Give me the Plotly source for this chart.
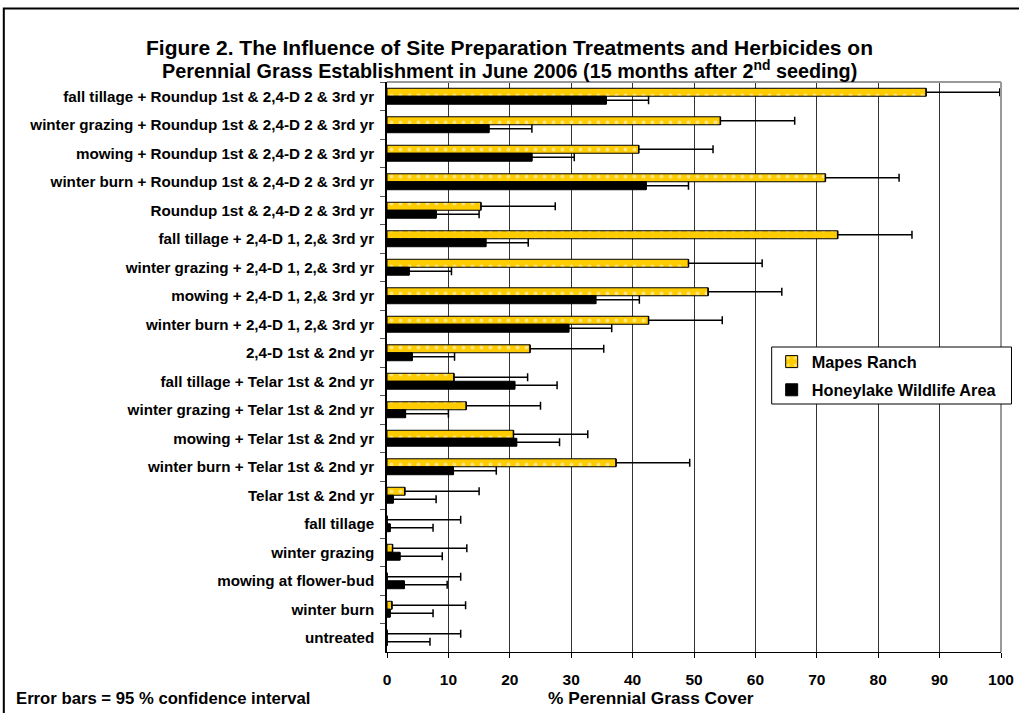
import plotly.graph_objects as go

categories = [
    "fall tillage + Roundup 1st & 2,4-D 2 & 3rd yr",
    "winter grazing + Roundup 1st & 2,4-D 2 & 3rd yr",
    "mowing + Roundup 1st & 2,4-D 2 & 3rd yr",
    "winter burn + Roundup 1st & 2,4-D 2 & 3rd yr",
    "Roundup 1st & 2,4-D 2 & 3rd yr",
    "fall tillage + 2,4-D 1, 2,& 3rd yr",
    "winter grazing + 2,4-D 1, 2,& 3rd yr",
    "mowing + 2,4-D 1, 2,& 3rd yr",
    "winter burn + 2,4-D 1, 2,& 3rd yr",
    "2,4-D 1st & 2nd yr",
    "fall tillage + Telar 1st & 2nd yr",
    "winter grazing + Telar 1st & 2nd yr",
    "mowing + Telar 1st & 2nd yr",
    "winter burn + Telar 1st & 2nd yr",
    "Telar 1st & 2nd yr",
    "fall tillage",
    "winter grazing",
    "mowing at flower-bud",
    "winter burn",
    "untreated",
]

mapes = [87.8, 54.3, 41.0, 71.4, 15.3, 73.4, 49.1, 52.3, 42.6, 23.3,
         10.9, 12.9, 20.6, 37.3, 2.9, 0.0, 0.9, 0.0, 0.8, 0.0]
mapes_err = [12.0, 12.1, 12.1, 12.0, 12.1, 12.1, 12.0, 12.0, 12.0, 12.0,
             12.0, 12.1, 12.1, 12.0, 12.1, 12.0, 12.1, 12.0, 12.0, 12.0]

honey = [35.7, 16.6, 23.6, 42.2, 8.0, 16.1, 3.6, 34.0, 29.6, 4.1,
         20.8, 3.0, 21.1, 10.8, 1.0, 0.5, 2.1, 2.8, 0.5, 0.0]
honey_err = [6.9, 7.0, 6.9, 6.9, 7.0, 6.9, 6.9, 7.1, 7.0, 6.9,
             6.9, 7.0, 7.0, 7.0, 7.0, 7.0, 6.9, 7.0, 7.0, 7.0]

x_ticks = [0, 10, 20, 30, 40, 50, 60, 70, 80, 90, 100]

title_lines = [
    "Figure 2. The Influence of Site Preparation Treatments and Herbicides on",
    "Perennial Grass Establishment in June 2006 (15 months after 2<sup>nd</sup> seeding)",
]

FONT = "Liberation Sans, Arial, sans-serif"
PW, PH, L, B = 614.5, 570.0, 387.0, 652.0


def px(x):
    return (x - L) / PW


def py(y):
    return (B - y) / PH


fig = go.Figure()
fig.add_trace(go.Bar(
    y=categories, x=mapes, orientation="h", name="Mapes Ranch", legendgroup="m",
    marker=dict(color="#FFCC00", line=dict(color="black", width=1),
                pattern=dict(shape=".", fgcolor="white", size=9, solidity=0.15)),
    error_x=dict(type="data", array=mapes_err, arrayminus=[0] * len(mapes),
                 symmetric=False, color="black", thickness=1.5, width=4),
))
fig.add_trace(go.Bar(
    y=categories, x=honey, orientation="h", name="Honeylake Wildlife Area", legendgroup="h",
    marker=dict(color="black", line=dict(color="black", width=1)),
    error_x=dict(type="data", array=honey_err, arrayminus=[0] * len(honey),
                 symmetric=False, color="black", thickness=1.5, width=4),
))

fig.update_layout(
    width=1019, height=713,
    margin=dict(l=387, r=18, t=82, b=61, autoexpand=False),
    paper_bgcolor="white", plot_bgcolor="white",
    barmode="group", bargap=0.44, bargroupgap=0,
    font=dict(family=FONT, color="black"),
    showlegend=True,
    legend=dict(
        x=px(772), y=py(344.5), xanchor="left", yanchor="top",
        bgcolor="rgba(0,0,0,0)", borderwidth=0,
        font=dict(size=16.3, family=FONT, color="black", weight="bold"),
        itemwidth=30, tracegroupgap=4,
    ),
)

fig.update_xaxes(
    range=[0, 100], tickvals=x_ticks, ticktext=[str(v) for v in x_ticks],
    showgrid=True, gridcolor="#333333", gridwidth=1,
    showline=True, linecolor="black", linewidth=1,
    ticks="outside", ticklen=5, tickcolor="black",
    tickfont=dict(size=15.5, family=FONT, color="black", weight="bold"),
    ticklabelstandoff=8,
    zeroline=False, mirror=False,
)
fig.update_yaxes(
    autorange="reversed", categoryorder="array", categoryarray=categories,
    showline=True, linecolor="black", linewidth=1.5,
    ticks="outside", ticklen=5, tickcolor="#555555", tickson="boundaries",
    tickfont=dict(size=15.2, family=FONT, color="black", weight="bold"),
    ticklabelstandoff=8,
    showgrid=False, zeroline=False,
)

# gray top and right border of plot area
fig.add_shape(type="line", xref="paper", yref="paper", x0=0, x1=1, y0=1, y1=1,
              line=dict(color="#999999", width=2))
fig.add_shape(type="line", xref="paper", yref="paper", x0=1, x1=1, y0=0, y1=1,
              line=dict(color="#999999", width=2))

# legend box (white, black border) drawn behind the legend entries
fig.add_shape(type="rect", xref="paper", yref="paper",
              x0=px(772), x1=px(1012), y0=py(404), y1=py(347),
              fillcolor="white", line=dict(color="black", width=1), layer="above")

# outer chart frame
fig.add_shape(type="rect", xref="paper", yref="paper",
              x0=px(3.5), x1=1.1, y0=-0.2, y1=py(8.5),
              line=dict(color="black", width=2), layer="below")

# title lines
for txt, yc, fs in zip(title_lines, [47, 70], [21, 19.8]):
    fig.add_annotation(text=txt, xref="paper", yref="paper",
                       x=px(510), y=py(yc), showarrow=False,
                       xanchor="center", yanchor="middle",
                       font=dict(size=fs, family=FONT, color="black", weight="bold"))

fig.add_annotation(text="% Perennial Grass Cover", xref="paper", yref="paper",
                   x=px(651), y=py(698), showarrow=False,
                   xanchor="center", yanchor="middle",
                   font=dict(size=17.3, family=FONT, color="black", weight="bold"))
fig.add_annotation(text="Error bars = 95 % confidence interval", xref="paper", yref="paper",
                   x=px(14), y=py(698), showarrow=False,
                   xanchor="left", yanchor="middle",
                   font=dict(size=16.7, family=FONT, color="black", weight="bold"))

fig.write_html("out.html", config={"displayModeBar": False},
               post_script="document.body.style.margin='0';document.body.style.overflow='hidden';")
